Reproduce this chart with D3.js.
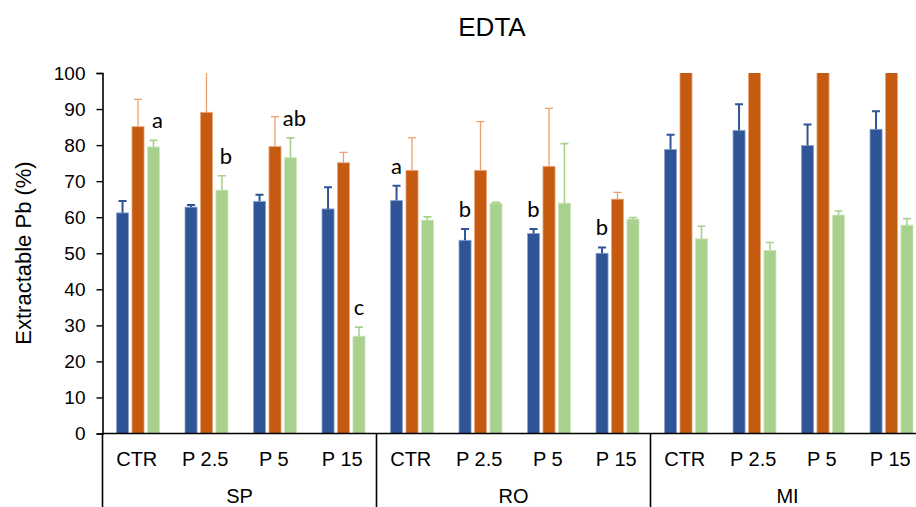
<!DOCTYPE html>
<html>
<head>
<meta charset="utf-8">
<script src="https://cdn.jsdelivr.net/npm/d3@7"></script>
<style>
  html, body { margin: 0; padding: 0; background: #fff; }
  svg { display: block; }
  text { font-family: Arial, "Liberation Sans", sans-serif; fill: #000; }
</style>
</head>
<body>
<svg id="chart" width="916" height="507"></svg>
<script>
// Extractable Pb (%) after EDTA extraction, by soil (SP, RO, MI) and treatment
const soils = ["SP", "RO", "MI"];
const treatments = ["CTR", "P 2.5", "P 5", "P 15"];
const seriesNames = ["s1", "s2", "s3"];
const yTicks = [0, 10, 20, 30, 40, 50, 60, 70, 80, 90, 100];

// Means per category (order: SP CTR..P15, RO CTR..P15, MI CTR..P15)
const blueValues   = [61.2, 62.8, 64.4, 62.3, 64.6, 53.6, 55.5, 50.0, 78.8, 84.1, 79.9, 84.4];
const orangeValues = [85.1, 89.1, 79.6, 75.1, 73.0, 73.0, 74.1, 65.0, 112.0, 118.0, 110.0, 115.0];
const greenValues  = [79.5, 67.5, 76.5, 27.0, 59.2, 63.9, 63.9, 59.5, 54.0, 50.8, 60.6, 57.8];

// Upper error bar lengths
const blueErrors   = [3.3, 0.6, 1.8, 6.0, 4.1, 3.1, 1.2, 1.6, 4.1, 7.2, 5.8, 5.0];
const orangeErrors = [7.6, 12.0, 8.3, 2.9, 9.0, 13.5, 16.1, 1.9, 8.0, 9.0, 7.0, 8.0];
const greenErrors  = [1.8, 4.0, 5.5, 2.5, 0.9, 0.2, 16.5, 0.4, 3.5, 2.2, 1.1, 1.8];

// Significance letters: [category index, series index, letter]
const letterMarks = [
  [0, 2, "a"], [1, 2, "b"], [2, 2, "ab"], [3, 2, "c"],
  [4, 0, "a"], [5, 0, "b"], [6, 0, "b"], [7, 0, "b"]
];

const fills   = ["#2F5597", "#C55A11", "#A9D18E"];
const edges   = ["#8FA6D0", "#EBA77A", "#CFE6BF"];
const errCols = ["#2F5597", "#EE9E68", "#A9D18E"];
const errW    = [2, 1.3, 1.6];

const valueSets = [blueValues, orangeValues, greenValues];
const errorSets = [blueErrors, orangeErrors, greenErrors];

const categories = [];
soils.forEach(s => treatments.forEach(t => categories.push(s + "|" + t)));

const svg = d3.select("#chart");
const plotLeft = 102.5, step = 68.5;
const plotTop = 73, plotBottom = 433.5;
const plotRight = plotLeft + step * categories.length;

const x = d3.scaleBand().domain(categories).range([plotLeft, plotRight]).paddingInner(0).paddingOuter(0);
const xs = d3.scaleBand().domain(seriesNames).range([14, 57]).paddingInner(0.22).paddingOuter(0);
const y = d3.scaleLinear().domain([0, 100]).range([plotBottom, plotTop]);

svg.append("defs").append("clipPath").attr("id", "plotClip")
  .append("rect").attr("x", plotLeft).attr("y", plotTop)
  .attr("width", plotRight - plotLeft).attr("height", plotBottom - plotTop);

// Title
svg.append("text").attr("x", 492).attr("y", 36).attr("text-anchor", "middle")
  .style("font-size", "26px").text("EDTA");

// Y label
svg.append("text").attr("transform", "translate(31,253) rotate(-90)")
  .attr("text-anchor", "middle").style("font-size", "22px").text("Extractable Pb (%)");

const plot = svg.append("g").attr("clip-path", "url(#plotClip)");

// Bars
seriesNames.forEach((s, si) => {
  plot.append("g").selectAll("rect").data(categories).join("rect")
    .attr("x", c => x(c) + xs(s))
    .attr("width", xs.bandwidth())
    .attr("y", (c, i) => y(valueSets[si][i]))
    .attr("height", (c, i) => y(0) - y(valueSets[si][i]))
    .attr("fill", fills[si])
    .attr("stroke", edges[si])
    .attr("stroke-width", 0.8);
});

// Error bars (upper side only)
seriesNames.forEach((s, si) => {
  const g = plot.append("g").attr("stroke", errCols[si]).attr("stroke-width", errW[si]);
  categories.forEach((c, i) => {
    const cx = x(c) + xs(s) + xs.bandwidth() / 2;
    const v = valueSets[si][i], e = errorSets[si][i];
    g.append("line").attr("x1", cx).attr("x2", cx).attr("y1", y(v)).attr("y2", y(v + e));
    g.append("line").attr("x1", cx - 4).attr("x2", cx + 4).attr("y1", y(v + e)).attr("y2", y(v + e));
  });
});

// Letters
svg.append("g").selectAll("text").data(letterMarks).join("text")
  .attr("x", d => x(categories[d[0]]) + xs(seriesNames[d[1]]) + xs.bandwidth() / 2 + (d[1] === 2 && d[0] < 3 ? 4 : 0))
  .attr("y", d => y(valueSets[d[1]][d[0]] + errorSets[d[1]][d[0]]) - 12)
  .attr("text-anchor", "middle")
  .style("font-family", "Lato, 'Open Sans', sans-serif")
  .style("font-size", "22px")
  .text(d => d[2]);

// Y axis
const yAxis = d3.axisLeft(y).tickValues(yTicks).tickSize(6).tickPadding(11).tickFormat(d3.format("d"));
const yg = svg.append("g").attr("transform", `translate(${plotLeft},0)`).call(yAxis);
yg.select(".domain").attr("stroke", "#000").attr("stroke-width", 1.6);
yg.selectAll(".tick line").attr("stroke", "#000").attr("stroke-width", 1.4);
yg.selectAll(".tick text").style("font-size", "19px").style("font-family", "Arial, 'Liberation Sans', sans-serif");

// X axis baseline
svg.append("line").attr("x1", plotLeft).attr("x2", plotRight).attr("y1", plotBottom).attr("y2", plotBottom)
  .attr("stroke", "#000").attr("stroke-width", 1.6);

// Treatment labels
svg.append("g").selectAll("text").data(categories).join("text")
  .attr("x", c => x(c) + step / 2)
  .attr("y", 466)
  .attr("text-anchor", "middle")
  .style("font-size", "20px")
  .text(c => c.split("|")[1]);

// Soil groups: separators and labels
const groupW = step * treatments.length;
const groupEdges = d3.range(soils.length + 1).map(i => plotLeft + i * groupW);
svg.append("g").selectAll("line").data(groupEdges).join("line")
  .attr("x1", d => d).attr("x2", d => d).attr("y1", plotBottom).attr("y2", 507)
  .attr("stroke", "#000").attr("stroke-width", 1.6);

svg.append("g").selectAll("text").data(soils).join("text")
  .attr("x", (s, i) => plotLeft + i * groupW + groupW / 2)
  .attr("y", 503)
  .attr("text-anchor", "middle")
  .style("font-size", "20px")
  .text(s => s);
</script>
</body>
</html>
